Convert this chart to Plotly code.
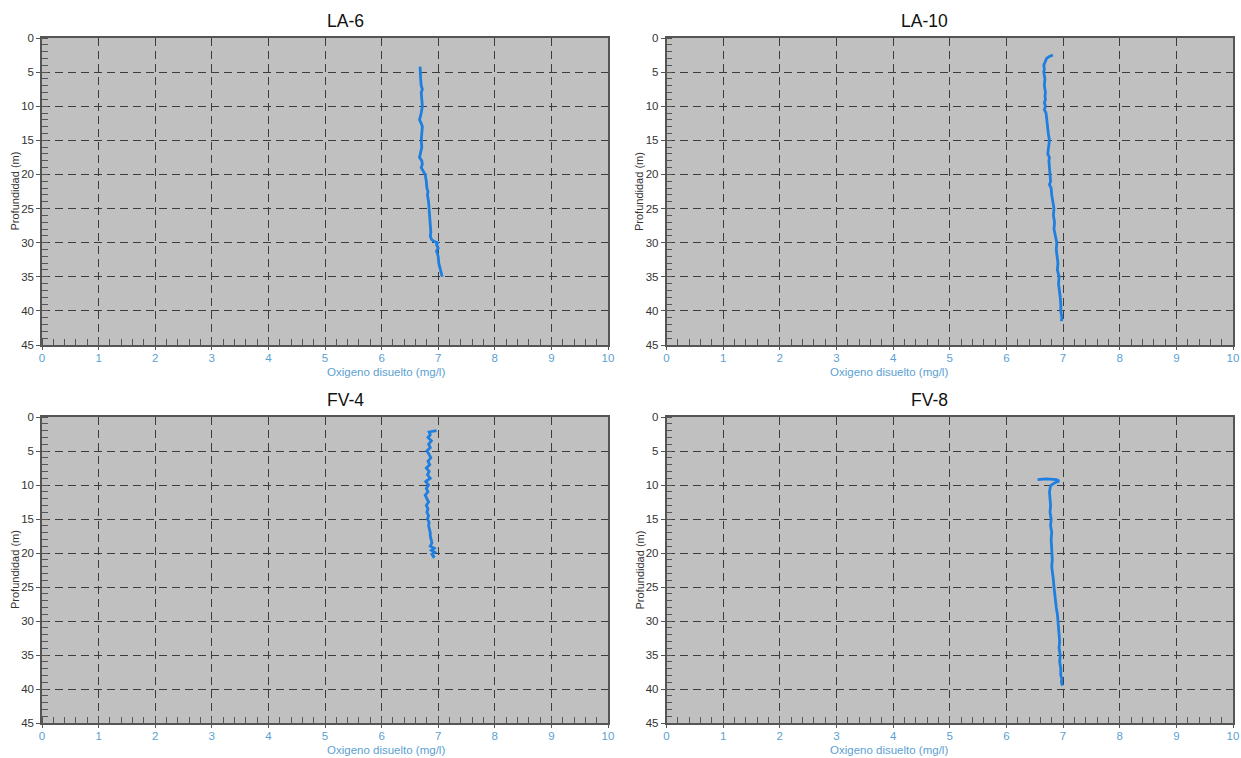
import plotly.graph_objects as go

# ---- data ----
titles = ["LA-6", "LA-10", "FV-4", "FV-8"]
x_title = "Oxigeno disuelto (mg/l)"
y_title = "Profundidad (m)"

la6_depth = [4.2, 5, 6, 7, 7.5, 8, 9, 10, 11, 12, 12.5, 13, 14, 15, 16, 17, 17.5, 18, 18.5, 19,
             19.5, 20, 21, 22, 22.5, 23, 24, 25, 26, 27, 28, 28.5, 29, 29.5, 29.8, 30, 30.3,
             30.8, 31.2, 31.6, 32, 33, 34, 34.5, 35]
la6_do = [6.68, 6.69, 6.69, 6.70, 6.72, 6.70, 6.71, 6.72, 6.70, 6.67, 6.70, 6.72, 6.71, 6.70,
          6.71, 6.69, 6.67, 6.71, 6.72, 6.70, 6.74, 6.77, 6.79, 6.80, 6.82, 6.81, 6.83, 6.84,
          6.85, 6.86, 6.86, 6.87, 6.86, 6.88, 6.92, 6.99, 6.97, 7.00, 6.97, 6.99, 7.00, 7.01,
          7.04, 7.05, 7.07]

la10_depth = [2.5, 2.7, 3.0, 3.5, 4.0, 4.5, 5, 6, 7, 8, 8.5, 9, 9.5, 10, 10.5, 11, 12, 13, 14,
              15, 16, 17, 17.5, 18, 19, 20, 21, 21.5, 22, 23, 24, 25, 26, 27, 28, 29, 30, 31,
              32, 33, 34, 35, 36, 37, 38, 39, 40, 41, 41.5]
la10_do = [6.82, 6.76, 6.71, 6.68, 6.66, 6.67, 6.66, 6.68, 6.67, 6.69, 6.68, 6.69, 6.67, 6.69,
           6.67, 6.70, 6.71, 6.72, 6.74, 6.76, 6.75, 6.73, 6.76, 6.75, 6.76, 6.77, 6.78, 6.76,
           6.79, 6.80, 6.82, 6.84, 6.83, 6.85, 6.84, 6.87, 6.89, 6.88, 6.89, 6.91, 6.90, 6.93,
           6.92, 6.94, 6.95, 6.96, 6.96, 6.98, 6.97]

fv4_depth = [2.0, 2.1, 2.2, 2.6, 3, 3.5, 4, 4.5, 5, 5.5, 6, 6.5, 7, 7.5, 8, 8.5, 9, 9.5, 10,
             10.5, 11, 11.5, 12, 12.5, 13, 13.5, 14, 14.5, 15, 15.5, 16, 16.5, 17, 17.5, 18,
             18.5, 19, 19.3, 19.6, 19.9, 20.2, 20.5, 20.7]
fv4_do = [6.97, 6.90, 6.84, 6.86, 6.82, 6.88, 6.83, 6.86, 6.80, 6.84, 6.87, 6.82, 6.85, 6.79,
          6.84, 6.81, 6.86, 6.78, 6.83, 6.79, 6.82, 6.77, 6.80, 6.83, 6.79, 6.82, 6.80, 6.83,
          6.81, 6.84, 6.83, 6.85, 6.86, 6.86, 6.88, 6.89, 6.86, 6.93, 6.88, 6.94, 6.89, 6.92,
          6.90]

fv8_depth = [9.2, 9.1, 9.2, 9.4, 9.7, 10.1, 11, 12, 13, 14, 15, 16, 17, 18, 19, 20, 21, 22, 23,
             24, 25, 26, 27, 28, 29, 30, 31, 32, 33, 34, 35, 36, 37, 38, 38.5, 39, 39.5]
fv8_do = [6.55, 6.70, 6.88, 6.93, 6.85, 6.78, 6.76, 6.77, 6.78, 6.77, 6.79, 6.78, 6.80, 6.79,
          6.80, 6.80, 6.81, 6.80, 6.82, 6.83, 6.84, 6.85, 6.86, 6.88, 6.90, 6.91, 6.92, 6.92,
          6.94, 6.93, 6.95, 6.94, 6.96, 6.96, 6.98, 6.97, 6.99]

x_range = [0, 10]
y_range = [45, 0]

series = [(la6_do, la6_depth), (la10_do, la10_depth), (fv4_do, fv4_depth), (fv8_do, fv8_depth)]

# ---- layout (page margin removed, so figure pixel = page pixel) ----
W, H = 1241, 758
def fx(p): return p / W
def fy(p): return 1 - p / H

panel_x = [(42, 608), (666.5, 1233)]
panel_y = [(38, 345), (417, 723)]
xdoms = [(fx(a), fx(b)) for a, b in panel_x]
ydoms = [(fy(b), fy(a)) for a, b in panel_y]

FONT = "Liberation Sans, Arial, sans-serif"
LINE_COLOR = "#1f7fe0"
GRID_COLOR = "#3c3c3c"
AXIS_COLOR = "#555555"
TICK_BLUE = "#5b9fd2"

fig = go.Figure()
layout = dict(
    width=W, height=H,
    margin=dict(l=0, r=0, t=0, b=0, autoexpand=False),
    paper_bgcolor="white",
    showlegend=False,
    annotations=[],
)

for i, (xs, ys) in enumerate(series):
    r, c = divmod(i, 2)
    n = "" if i == 0 else str(i + 1)
    fig.add_trace(go.Scatter(
        x=xs, y=ys, mode="lines",
        line=dict(color=LINE_COLOR, width=2.8),
        xaxis="x" + n, yaxis="y" + n,
    ))
    layout["xaxis" + n] = dict(
        domain=xdoms[c], anchor="y" + n, range=x_range, dtick=1, tick0=0, automargin=False,
        showgrid=True, gridcolor=GRID_COLOR, gridwidth=1.2, griddash="8px,5px",
        zeroline=False, showline=True, linecolor=AXIS_COLOR, linewidth=1.5, mirror=True,
        ticks="outside", ticklen=3, tickcolor=AXIS_COLOR, ticklabelstandoff=-2,
        ticklabeloverflow="allow",
        minor=dict(dtick=0.2, ticks="inside", ticklen=6, tickcolor=AXIS_COLOR, showgrid=False),
        tickfont=dict(family=FONT, size=11.5, color=TICK_BLUE),
    )
    layout["yaxis" + n] = dict(
        domain=ydoms[r], anchor="x" + n, range=y_range, dtick=5, tick0=0, automargin=False,
        showgrid=True, gridcolor=GRID_COLOR, gridwidth=1.2, griddash="8px,5px",
        zeroline=False, showline=True, linecolor=AXIS_COLOR, linewidth=1.5, mirror=True,
        ticks="outside", ticklen=4, tickcolor=AXIS_COLOR,
        minor=dict(dtick=1, ticks="inside", ticklen=6, tickcolor=AXIS_COLOR, showgrid=False),
        tickfont=dict(family=FONT, size=11.5, color="#333333"),
    )
    cx = (xdoms[c][0] + xdoms[c][1]) / 2
    cy = (ydoms[r][0] + ydoms[r][1]) / 2
    layout["annotations"] += [
        dict(text=titles[i], showarrow=False, xref="paper", yref="paper",
             x=cx, y=ydoms[r][1], yanchor="bottom", yshift=5,
             font=dict(family=FONT, size=17.5, color="#111111")),
        dict(text=x_title, showarrow=False, xref="paper", yref="paper",
             x=cx, y=ydoms[r][0], yanchor="middle", yshift=-27,
             font=dict(family=FONT, size=11.5, color=TICK_BLUE)),
        dict(text=y_title, showarrow=False, xref="paper", yref="paper", textangle=-90,
             x=fx(panel_x[c][0] - 27), y=cy, xanchor="center", yanchor="middle",
             font=dict(family=FONT, size=11, color="#333333")),
    ]

layout["plot_bgcolor"] = "#c0c0c0"
fig.update_layout(**layout)
fig.write_html(
    "out.html",
    config={"displayModeBar": False},
    post_script="document.body.style.margin='0';document.body.style.overflow='hidden';",
)
